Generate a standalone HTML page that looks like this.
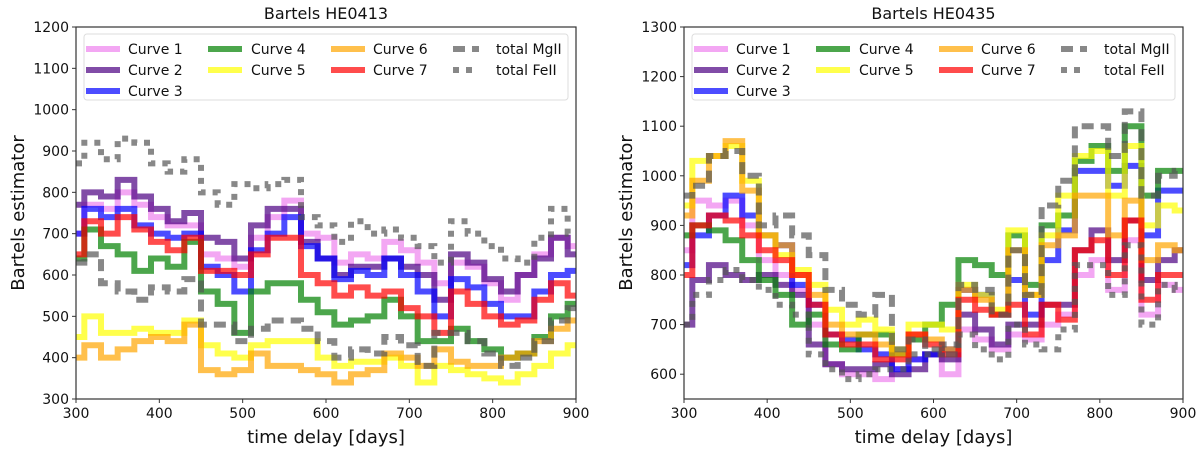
<!DOCTYPE html>
<html><head><meta charset="utf-8">
<style>
body{margin:0;background:#fff;}
svg{display:block;font-family:"DejaVu Sans","Liberation Sans",sans-serif;}
</style></head>
<body>
<svg id="chart" width="1200" height="450" viewBox="0 0 1200 450" xmlns="http://www.w3.org/2000/svg"></svg>
<script>
const xDays = [300,320,340,360,380,400,420,440,460,480,500,520,540,560,580,600,620,640,660,680,700,720,740,760,780,800,820,840,860,880,900];
const seriesNames = ["Curve 1","Curve 2","Curve 3","Curve 4","Curve 5","Curve 6","Curve 7","total MgII","total FeII"];
const xTicks = [300,400,500,600,700,800,900];
const yTicksLeft = [300,400,500,600,700,800,900,1000,1100,1200];
const yTicksRight = [600,700,800,900,1000,1100,1200,1300];

const L1 = [700,770,760,800,770,740,720,720,650,640,620,690,740,780,700,690,630,650,640,680,660,630,580,630,620,580,540,600,650,690,670];
const L2 = [770,800,790,830,790,760,730,750,690,680,640,720,760,760,680,640,600,620,620,640,620,600,540,650,630,590,560,600,640,690,650];
const L3 = [700,760,740,760,720,700,690,700,620,600,560,660,700,740,670,640,590,610,600,640,600,560,500,590,570,530,500,500,560,600,610];
const L4 = [640,710,670,650,610,640,620,680,560,530,460,560,580,580,540,510,480,490,500,540,500,440,440,470,440,420,400,410,450,500,530];
const L5 = [450,500,460,460,470,460,460,490,430,410,400,430,440,440,440,400,380,390,390,400,380,340,380,370,360,350,340,360,380,410,430];
const L6 = [400,430,400,420,440,450,440,480,370,360,370,410,380,380,370,360,340,360,370,410,400,380,420,390,380,380,400,410,440,470,490];
const L7 = [650,730,700,740,710,680,660,690,610,610,600,650,690,690,600,580,550,570,550,560,520,500,460,560,530,500,480,490,540,580,550];
const LMg = [630,650,580,560,540,570,560,590,480,480,440,470,490,490,470,440,400,420,410,450,430,380,460,460,440,410,380,400,440,490,520];
const LFe = [870,920,880,930,920,870,850,880,800,770,820,810,820,830,740,720,680,730,700,710,690,670,630,730,700,670,640,630,690,760,700];

const R1 = [850,950,940,950,900,830,800,770,700,620,600,600,590,610,630,640,600,690,670,650,680,670,700,720,800,830,770,870,720,780,770];
const R2 = [700,790,820,800,790,800,780,760,660,620,610,610,620,600,610,640,630,720,690,660,700,700,740,740,850,890,830,910,790,830,850];
const R3 = [820,880,920,960,920,880,860,780,740,680,670,650,640,610,630,640,650,770,760,720,790,720,830,890,1010,1010,980,1020,880,970,970];
const R4 = [880,900,890,870,830,790,760,700,720,660,650,680,680,640,670,700,740,830,820,800,880,780,900,920,1030,1060,1010,1100,960,1010,1010];
const R5 = [940,1030,1040,1060,990,880,840,810,780,730,700,710,690,650,700,700,690,780,760,730,890,760,880,960,1040,1050,960,1060,900,940,930];
const R6 = [920,990,1040,1070,970,880,860,800,760,700,680,680,660,640,680,670,650,770,750,720,850,760,860,880,960,960,880,950,830,860,850];
const R7 = [800,900,920,910,880,850,830,800,740,680,660,660,630,630,680,660,640,750,730,720,740,680,740,710,850,870,800,910,750,800,800];
const RMg = [960,980,1040,1050,1000,900,920,880,840,770,740,720,760,650,670,650,640,780,770,720,850,760,940,990,1100,1100,1040,1130,960,1000,1010];
const RFe = [700,760,790,810,790,770,740,720,640,610,590,600,610,610,640,640,660,680,650,630,700,660,650,690,820,820,760,860,700,780,770];

const styles = [
 {c:"#EE82EE",d:null},{c:"#4B0082",d:null,o:0.7},{c:"#0000FF",d:null},{c:"#008000",d:null},
 {c:"#FFFF00",d:null},{c:"#FFA500",d:null},{c:"#FF0000",d:null},
 {c:"#555555",d:"12 7"},{c:"#555555",d:"6 7"}
];
const NS="http://www.w3.org/2000/svg";
const svg=document.getElementById('chart');
function mk(tag,attrs,parent){const e=document.createElementNS(NS,tag);for(const k in attrs)e.setAttribute(k,attrs[k]);(parent||svg).appendChild(e);return e;}

function panel(id,x0,x1,y0,y1,ymin,ymax,yTicks,title,data){
  const g=mk('g',{});
  
  
  const sx=v=>x0+(v-300)/600*(x1-x0);
  const sy=v=>y1-(v-ymin)/(ymax-ymin)*(y1-y0);
  const clip=mk('clipPath',{id:'clip-'+id},g);
  mk('rect',{x:x0,y:y0,width:x1-x0,height:y1-y0},clip);
  const lines=mk('g',{'clip-path':'url(#clip-'+id+')'},g);
  data.forEach((arr,i)=>{
    let d='';
    arr.forEach((v,j)=>{
      const X=sx(xDays[j]),Y=sy(v);
      if(j===0)d+='M'+X+' '+Y;
      else{d+=' H'+((sx(xDays[j-1])+X)/2)+' V'+Y+' H'+X;}
    });
    const st=styles[i];
    const p=mk('path',{d:d,fill:'none',stroke:st.c,'stroke-width':6,'stroke-opacity':st.o||0.7,'stroke-linejoin':'miter'},lines);
    if(st.d)p.setAttribute('stroke-dasharray',st.d);
    
    
  });
  const frame=mk('rect',{x:x0,y:y0,width:x1-x0,height:y1-y0,fill:'none',stroke:'#333','stroke-width':1.2},g);
  
  
  xTicks.forEach(t=>{
    mk('line',{x1:sx(t),x2:sx(t),y1:y1,y2:y1+4,stroke:'#333'},g);
    const tx=mk('text',{x:sx(t),y:y1+19,'text-anchor':'middle','font-size':14,fill:'#111'},g);
    tx.textContent=t;
    
    
  });
  yTicks.forEach(t=>{
    mk('line',{x1:x0-4,x2:x0,y1:sy(t),y2:sy(t),stroke:'#333'},g);
    const tx=mk('text',{x:x0-7,y:sy(t)+5,'text-anchor':'end','font-size':14,fill:'#111'},g);
    tx.textContent=t;
    
    
  });
  const xt=mk('text',{x:(x0+x1)/2,y:y1+44,'text-anchor':'middle','font-size':18,fill:'#111'},g);
  xt.textContent='time delay [days]';
  
  
  const yt=mk('text',{x:0,y:0,'text-anchor':'middle','font-size':18,fill:'#111',transform:'translate('+(x0-52)+','+((y0+y1)/2)+') rotate(-90)'},g);
  yt.textContent='Bartels estimator';
  
  
  const tt=mk('text',{x:(x0+x1)/2,y:y0-8,'text-anchor':'middle','font-size':16,fill:'#111'},g);
  tt.textContent=title;
  
  
  const lg=mk('g',{},g);
  
  
  mk('rect',{x:x0+8,y:y0+7,width:x1-x0-16,height:66,rx:3,fill:'#fff','fill-opacity':0.8,stroke:'#ddd'},lg);
  const cols=[[0,1,2],[3,4],[5,6],[7,8]];
  const colX=[10,132,255,377];
  const textX=[52,175,297,420];
  cols.forEach((col,ci)=>{
    col.forEach((si,ri)=>{
      const yy=y0+22+ri*21;
      const st=styles[si];
      const hx0=x0+colX[ci], hx1=x0+colX[ci]+(ci===3?26:34);
      const hl=mk('line',{x1:hx0,x2:hx1,y1:yy,y2:yy,stroke:st.c,'stroke-width':6,'stroke-opacity':st.o||0.7},lg);
      if(st.d)hl.setAttribute('stroke-dasharray',st.d);
      const lt=mk('text',{x:x0+textX[ci],y:yy+5,'font-size':14,fill:'#111'},lg);
      lt.textContent=seriesNames[si];
      
      
    });
  });
}
panel('he0413',76,576,27,399,300,1200,yTicksLeft,'Bartels HE0413',[L1,L2,L3,L4,L5,L6,L7,LMg,LFe]);
panel('he0435',684,1183,27,399,550,1300,yTicksRight,'Bartels HE0435',[R1,R2,R3,R4,R5,R6,R7,RMg,RFe]);
</script>
</body></html>
